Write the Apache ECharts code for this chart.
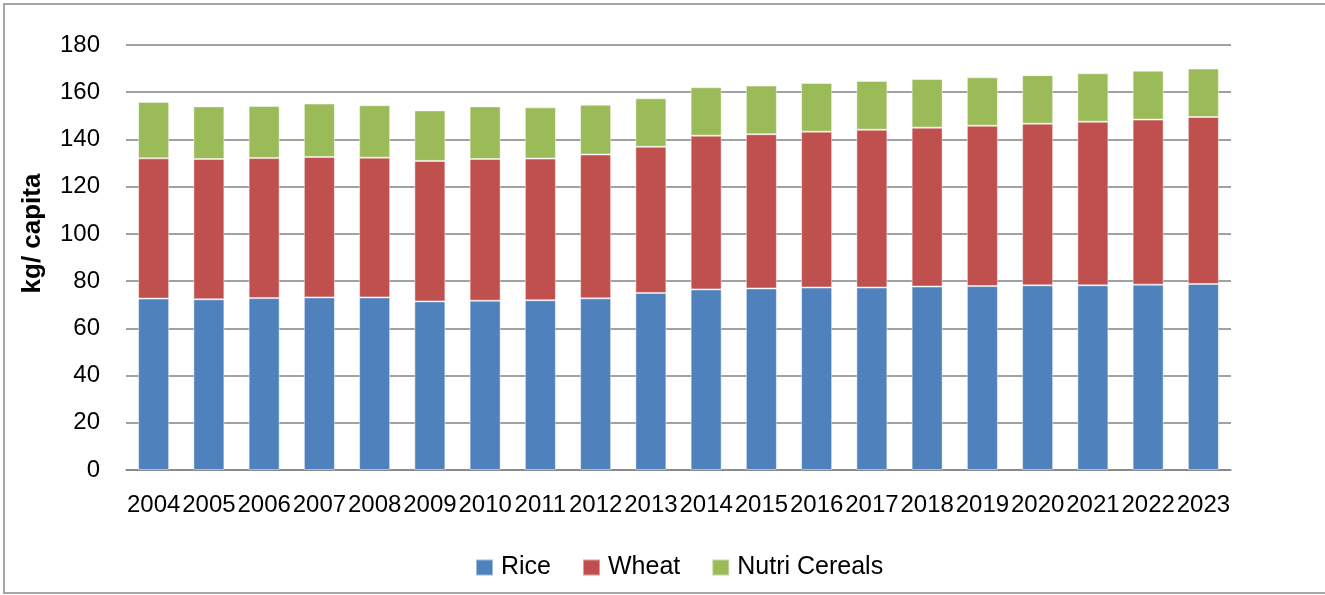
<!DOCTYPE html>
<html>
<head>
<meta charset="utf-8">
<script src="https://cdn.jsdelivr.net/npm/echarts@6/dist/echarts.min.js"></script>
<style>
html,body{margin:0;padding:0;background:#fff;}
#chart{width:1325px;height:595px;}
</style>
</head>
<body>
<div id="chart"></div>
<script>
const years = ['2004','2005','2006','2007','2008','2009','2010','2011','2012','2013','2014','2015','2016','2017','2018','2019','2020','2021','2022','2023'];
const rice = [72.6,72.3,72.8,73.1,73.1,71.4,71.7,71.9,72.7,75.0,76.5,76.9,77.3,77.3,77.7,77.9,78.2,78.2,78.5,78.8];
const wheat = [59.4,59.4,59.3,59.5,59.2,59.5,60.0,60.0,60.9,61.9,65.1,65.3,66.0,66.8,67.3,67.9,68.5,69.3,69.9,70.7];
const nutriCereals = [23.9,22.3,22.1,22.6,22.2,21.4,22.3,21.7,21.1,20.5,20.5,20.6,20.6,20.7,20.6,20.5,20.5,20.5,20.7,20.5];
const yTicks = {min:0, max:180, interval:20};
const yTitle = 'kg/ capita';

const FONT = 'Liberation Sans';
const chart = echarts.init(document.getElementById('chart'), null, {renderer:'canvas'});
const barStyle = (c) => ({color:c, borderColor:'rgba(255,255,255,0.45)', borderWidth:1});
chart.setOption({
  animation:false,
  backgroundColor:'#fff',
  textStyle:{fontFamily:FONT},
  graphic:[{
    type:'rect', silent:true, z:-1,
    shape:{x:4, y:4, width:1340, height:589},
    style:{fill:'none', stroke:'#8a8a8a', lineWidth:1.5}
  }],
  grid:{left:126, right:94, top:45, bottom:125, containLabel:false},
  legend:{
    left:470, top:550,
    itemWidth:17, itemHeight:16, itemGap:31,
    icon:'rect',
    textStyle:{fontFamily:FONT, fontSize:25, color:'#000', padding:[0,0,0,3]},
    data:['Rice','Wheat','Nutri Cereals']
  },
  xAxis:{
    type:'category', data:years,
    axisLine:{show:true, lineStyle:{color:'#828282', width:1.5}},
    axisTick:{show:false},
    axisLabel:{interval:0, fontFamily:FONT, fontSize:24, color:'#000', margin:23}
  },
  yAxis:{
    type:'value', min:yTicks.min, max:yTicks.max, interval:yTicks.interval,
    name:yTitle, nameLocation:'middle', nameRotate:90, nameGap:80,
    nameTextStyle:{fontFamily:FONT, fontSize:26, fontWeight:'bold', color:'#000', padding:[0,0,0,48]},
    axisLine:{show:false}, axisTick:{show:false},
    axisLabel:{fontFamily:FONT, fontSize:24, color:'#000', margin:26},
    splitLine:{lineStyle:{color:'#828282', width:1.5}}
  },
  series:[
    {name:'Rice', type:'bar', stack:'t', data:rice, barWidth:31, itemStyle:barStyle('#4F81BD')},
    {name:'Wheat', type:'bar', stack:'t', data:wheat, barWidth:31, itemStyle:barStyle('#C0504D')},
    {name:'Nutri Cereals', type:'bar', stack:'t', data:nutriCereals, barWidth:31, itemStyle:barStyle('#9BBB59')}
  ]
});
</script>
</body>
</html>
